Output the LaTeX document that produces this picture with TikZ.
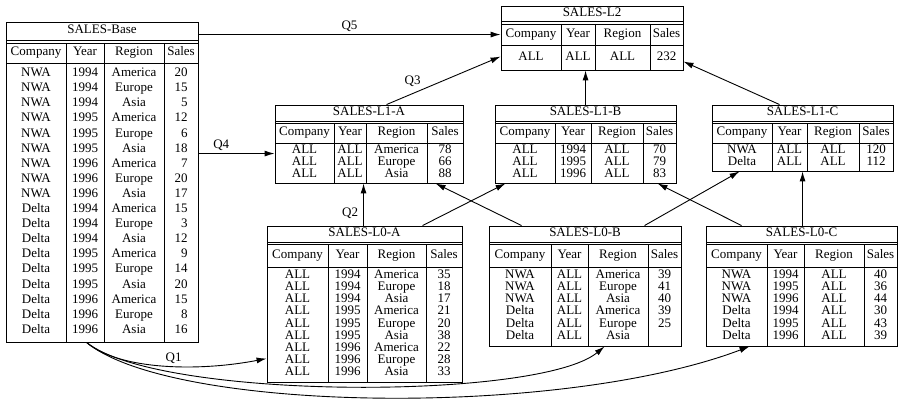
\documentclass[tikz,border=0pt]{standalone}
\usepackage{fontspec}
\setmainfont{Liberation Serif}
\usetikzlibrary{arrows.meta,fit}

% pads a one-digit figure to the width of two
\newcommand\pz{\phantom{0}}

% \salestable{name}{x0/x1/x2/x3/x4}{top/title rule/header rule/bottom}{title}{first row y}{row pitch}{rows}
\newcommand\salestable[7]{%
  \foreach \xa/\xb/\xc/\xd/\xe in {#2}{%
    \foreach \ya/\yb/\yc/\yd in {#3}{%
      \node[frame, fit={(\xa,\ya) (\xe,\yd)}] (#1) {};
      \draw[rule] (\xa,\yb) -- (\xe,\yb) (\xa,{\yb+2.5}) -- (\xe,{\yb+2.5});
      \draw[rule] (\xa,\yc) -- (\xe,\yc);
      \draw[rule] (\xb,{\yb+2.5}) -- (\xb,\yd)
                  (\xc,{\yb+2.5}) -- (\xc,\yd)
                  (\xd,{\yb+2.5}) -- (\xd,\yd);
      \node[cell] (#1-title) at ({(\xa+\xe)/2},{(\ya+\yb)/2}) {#4};
      \path ({(\xa+\xb)/2},{(\yb+2.5+\yc)/2}) node[cell] (#1-h1) {Company}
            ({(\xb+\xc)/2},{(\yb+2.5+\yc)/2}) node[cell] (#1-h2) {Year}
            ({(\xc+\xd)/2},{(\yb+2.5+\yc)/2}) node[cell] (#1-h3) {Region}
            ({(\xd+\xe)/2},{(\yb+2.5+\yc)/2}) node[cell] (#1-h4) {Sales};
      \foreach \vc/\vy/\vr/\vs [count=\i from 0] in {#7}{%
        \pgfmathsetmacro\yy{#5+\i*#6}
        \path ({(\xa+\xb)/2},\yy) node[cell] (#1-r\i-c1) {\vc}
              ({(\xb+\xc)/2},\yy) node[cell] (#1-r\i-c2) {\vy}
              ({(\xc+\xd)/2},\yy) node[cell] (#1-r\i-c3) {\vr}
              ({(\xd+\xe)/2},\yy) node[cell] (#1-r\i-c4) {\vs};
      }%
    }%
  }%
}

\begin{document}
\begin{tikzpicture}[x=1pt, y=-1pt,
  font=\fontsize{13}{14}\selectfont,
  frame/.style={draw, line width=0.9pt, inner sep=0pt},
  rule/.style={line width=0.7pt},
  cell/.style={inner sep=0pt, text height=1.45ex, text depth=0.3ex, anchor=center},
  arr/.style={line width=0.9pt, -{Latex[length=10pt,width=6pt]}},
  qlabel/.style={inner sep=2pt}]
\useasboundingbox (0,0) rectangle (902,403);

% base relation
\salestable{base}{6/66/104/164/198}{22/40.5/63/342}{SALES-Base}{74}{15.1}{%
  NWA/1994/America/20, NWA/1994/Europe/15, NWA/1994/Asia/\pz5,
  NWA/1995/America/12, NWA/1995/Europe/\pz6, NWA/1995/Asia/18,
  NWA/1996/America/\pz7, NWA/1996/Europe/20, NWA/1996/Asia/17,
  Delta/1994/America/15, Delta/1994/Europe/\pz3, Delta/1994/Asia/12,
  Delta/1995/America/\pz9, Delta/1995/Europe/14, Delta/1995/Asia/20,
  Delta/1996/America/15, Delta/1996/Europe/\pz8, Delta/1996/Asia/16}

% top level
\salestable{l2}{501/561/595/650/683}{6/21.5/45/70}{SALES-L2}{57.5}{12}{%
  ALL/ALL/ALL/232}

% level 1
\salestable{l1a}{275/334/366/427/463}{105/121/143/183}{SALES-L1-A}{151}{12}{%
  ALL/ALL/America/78, ALL/ALL/Europe/66, ALL/ALL/Asia/88}
\salestable{l1b}{495/555/591/643/676}{105/121/143/183}{SALES-L1-B}{151}{12}{%
  ALL/1994/ALL/70, ALL/1995/ALL/79, ALL/1996/ALL/83}
\salestable{l1c}{712/772/807/859/893}{105/121/143/171}{SALES-L1-C}{151}{12}{%
  NWA/ALL/ALL/120, Delta/ALL/ALL/112}

% level 0
\salestable{l0a}{267/328/367/426/462}{226/242/267/382}{SALES-L0-A}{276}{12.1}{%
  ALL/1994/America/35, ALL/1994/Europe/18, ALL/1994/Asia/17,
  ALL/1995/America/21, ALL/1995/Europe/20, ALL/1995/Asia/38,
  ALL/1996/America/22, ALL/1996/Europe/28, ALL/1996/Asia/33}
\salestable{l0b}{489/551/588/648/681}{226/242/267/346}{SALES-L0-B}{276}{12.1}{%
  NWA/ALL/America/39, NWA/ALL/Europe/41, NWA/ALL/Asia/40,
  Delta/ALL/America/39, Delta/ALL/Europe/25, Delta/ALL/Asia/{}}
\salestable{l0c}{706/767/804/864/897}{226/242/267/346}{SALES-L0-C}{276}{12.1}{%
  NWA/1994/ALL/40, NWA/1995/ALL/36, NWA/1996/ALL/44,
  Delta/1994/ALL/30, Delta/1995/ALL/43, Delta/1996/ALL/39}

% queries answered straight from the base relation
\draw[arr] ([yshift=-13pt]base.north east) -- node[qlabel, above] (q5) {Q5} ([yshift=-29pt]l2.north west);
\draw[arr] ([yshift=-132pt]base.north east) -- node[qlabel, above, pos=0.3] (q4) {Q4} ([yshift=-49pt]l1a.north west);

% level 1 -> level 2
\draw[arr] ([xshift=112pt]l1a.north west) -- node[qlabel, above left, pos=0.32] (q3) {Q3} ([yshift=-51pt]l2.north west);
\draw[arr] ([xshift=91pt]l1b.north west) -- ([xshift=85pt]l2.south west);
\draw[arr] ([xshift=68pt]l1c.north west) -- ([yshift=-56pt]l2.north east);

% level 0 -> level 1
\draw[arr] ([xshift=97pt]l0a.north west) -- node[qlabel, left=3pt, pos=0.3] (q2) {Q2} ([xshift=89pt]l1a.south west);
\draw[arr] ([xshift=156pt]l0a.north west) -- ([xshift=11pt]l1b.south west);
\draw[arr] ([xshift=33pt]l0b.north west) -- ([xshift=161pt]l1a.south west);
\draw[arr] ([xshift=156pt]l0b.north west) -- ([xshift=28pt]l1c.south west);
\draw[arr] ([xshift=36pt]l0c.north west) -- ([xshift=163pt]l1b.south west);
\draw[arr] ([xshift=97pt]l0c.north west) -- ([xshift=91pt]l1c.south west);

% base -> level 0
\draw[arr] ([xshift=81pt]base.south west) .. controls +(33,28) and +(-67,13) .. node[qlabel, above, pos=0.55] (q1) {Q1} ([yshift=-133pt]l0a.north west);
\draw[arr] ([xshift=81pt]base.south west) .. controls +(73,58) and +(-65,54) .. ([xshift=116pt]l0b.south west);
\draw[arr] ([xshift=81pt]base.south west) .. controls +(85,70) and +(-190,72) .. ([xshift=44pt]l0c.south west);
\end{tikzpicture}
\end{document}
